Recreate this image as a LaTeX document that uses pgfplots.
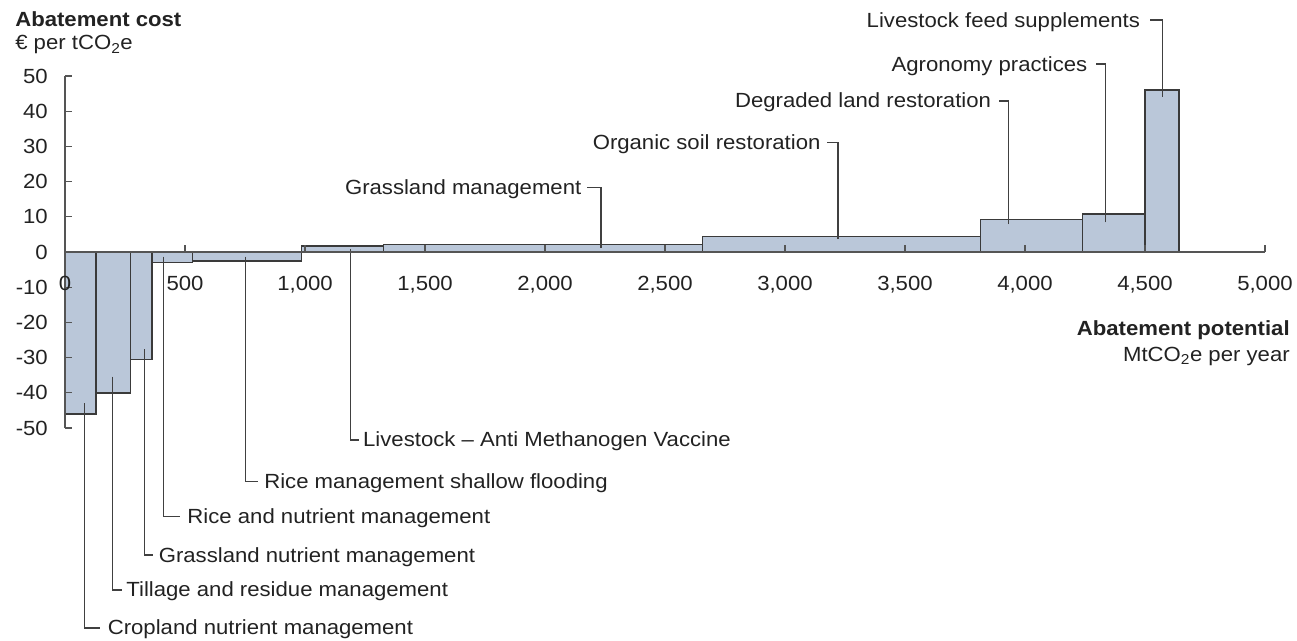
\documentclass[border=0pt]{standalone}
\usepackage{fontspec}
\setmainfont{Liberation Sans}[FakeStretch=1.08]
\usepackage{pgfplots}
\pgfplotsset{compat=1.18}
\definecolor{barfill}{HTML}{BAC7D9}
\definecolor{baredge}{HTML}{3A3A3A}
\definecolor{axcol}{HTML}{555555}
\definecolor{txt}{HTML}{222222}
\begin{document}
\begin{tikzpicture}[font=\fontsize{20.5}{24}\selectfont,
  callout/.style={draw=black!75, line width=1.2pt},
  lbl/.style={inner sep=0pt, text=txt, font=\fontsize{20.5}{24}\selectfont}]
\useasboundingbox (0,0) rectangle (1297pt,640pt);
\begin{axis}[
  at={(65pt,212pt)}, anchor=south west,
  scale only axis, width=1200pt, height=352pt,
  xmin=0, xmax=5000, ymin=-50, ymax=50,
  axis y line=left, axis x line=middle,
  axis line style={-, draw=axcol, line width=1.3pt},
  hide obscured x ticks=false,
  clip=false, axis on top,
  xtick={0,500,...,5000}, ytick={-50,-40,...,50},
  tick align=inside, major tick length=7pt,
  tick style={draw=axcol, line width=1.3pt},
  /pgf/number format/1000 sep={,},
  /pgf/number format/assume math mode=true,
  xticklabel style={anchor=base, inner sep=0pt, yshift=-39pt},
  yticklabel style={anchor=east, inner sep=0pt, xshift=-17pt},
  tick label style={font=\fontsize{20.5}{24}\selectfont, text=txt},
]
\addplot[ybar interval, fill=barfill, draw=baredge, line width=1.4pt] coordinates {
  (0,-46) (130,-40) (274,-30.5) (362,-3) (532,-2.6) (986,1.7) (1326,2.2)
  (2656,4.4) (3814,9.2) (4239,10.8) (4500,46) (4641,46)};

% bottom callouts
\draw[callout] (axis cs:80,-43) -- (axis cs:80,-106.8) -- (axis cs:146.7,-106.8)
  node[lbl, anchor=base west, xshift=7pt, yshift=-7pt] {Cropland nutrient management};
\draw[callout] (axis cs:197,-35.4) -- (axis cs:197,-96.0) -- (axis cs:236.6,-96.0)
  node[lbl, anchor=base west, xshift=4pt, yshift=-7pt] {Tillage and residue management};
\draw[callout] (axis cs:330,-27.6) -- (axis cs:330,-86.1) -- (axis cs:367.5,-86.1)
  node[lbl, anchor=base west, xshift=5pt, yshift=-7pt] {Grassland nutrient management};
\draw[callout] (axis cs:412,-1.3) -- (axis cs:412,-75.2) -- (axis cs:478.7,-75.2)
  node[lbl, anchor=base west, xshift=7pt, yshift=-7pt] {Rice and nutrient management};
\draw[callout] (axis cs:753,-1.3) -- (axis cs:753,-65.3) -- (axis cs:803,-65.3)
  node[lbl, anchor=base west, xshift=6pt, yshift=-7pt] {Rice management shallow flooding};
\draw[callout] (axis cs:1190,0.85) -- (axis cs:1190,-53.4) -- (axis cs:1223.3,-53.4)
  node[lbl, anchor=base west, xshift=4pt, yshift=-7pt] {Livestock – Anti Methanogen Vaccine};

% top callouts
\draw[callout] (axis cs:2233,1.2) -- (axis cs:2233,18.4) -- (axis cs:2174.7,18.4)
  node[lbl, anchor=base east, xshift=-5pt, yshift=-7pt] {Grassland management};
\draw[callout] (axis cs:3221,3.7) -- (axis cs:3221,31.0) -- (axis cs:3175.2,31.0)
  node[lbl, anchor=base east, xshift=-6pt, yshift=-7pt] {Organic soil restoration};
\draw[callout] (axis cs:3932,7.9) -- (axis cs:3932,42.9) -- (axis cs:3890.3,42.9)
  node[lbl, anchor=base east, xshift=-7pt, yshift=-7pt] {Degraded land restoration};
\draw[callout] (axis cs:4337,8.4) -- (axis cs:4337,53.4) -- (axis cs:4295.3,53.4)
  node[lbl, anchor=base east, xshift=-8pt, yshift=-7pt] {Agronomy practices};
\draw[callout] (axis cs:4573,44.1) -- (axis cs:4573,65.9) -- (axis cs:4519,65.9)
  node[lbl, anchor=base east, xshift=-9pt, yshift=-7pt] {Livestock feed supplements};

% axis titles
\node[lbl, anchor=base west] at (axis cs:-208,64.2) {\bfseries Abatement cost};
\node[lbl, anchor=base west] at (axis cs:-208,57.4) {€ per tCO\textsubscript{2}e};
\node[lbl, anchor=base east] at (axis cs:5104,-23.6) {\bfseries Abatement potential};
\node[lbl, anchor=base east] at (axis cs:5104,-31.0) {MtCO\textsubscript{2}e per year};
\end{axis}
\end{tikzpicture}
\end{document}
